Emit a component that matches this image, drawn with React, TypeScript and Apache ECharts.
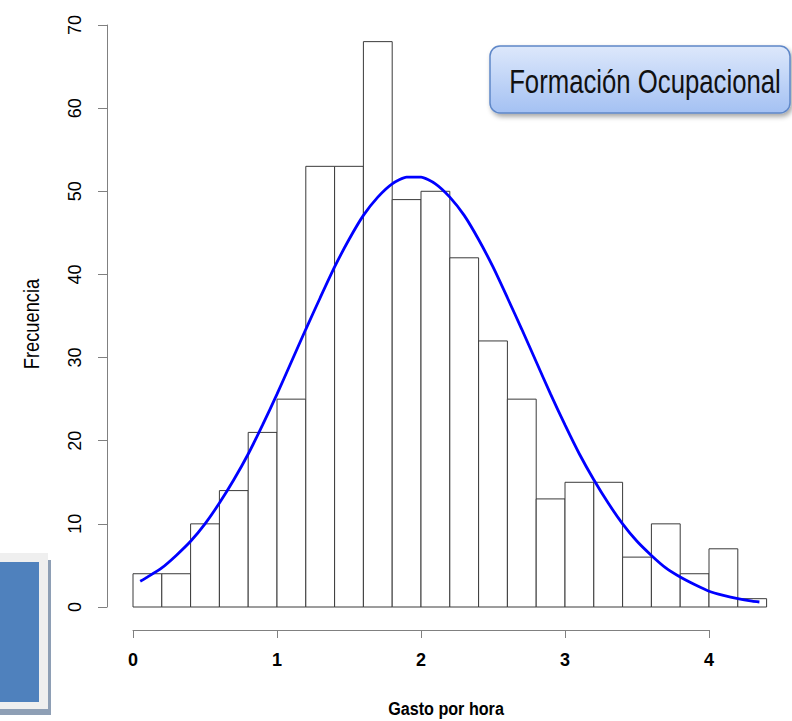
import React, { useEffect, useRef } from "react";
import * as echarts from "echarts";

// Histogram bins (edges) and frequencies
const binEdges = [0, 0.2, 0.4, 0.6, 0.8, 1.0, 1.2, 1.4, 1.6, 1.8, 2.0, 2.2, 2.4, 2.6, 2.8, 3.0, 3.2, 3.4, 3.6, 3.8, 4.0, 4.2, 4.4];
const counts = [4, 4, 10, 14, 21, 25, 53, 53, 68, 49, 50, 42, 32, 25, 13, 15, 15, 6, 10, 4, 7, 1];

// Fitted normal curve
const curveX = [0.05, 0.1, 0.2, 0.3, 0.4, 0.5, 0.6, 0.7, 0.8, 0.9, 1.0, 1.1, 1.2, 1.3, 1.4, 1.5, 1.6, 1.7, 1.8, 1.9, 2.0, 2.1, 2.2, 2.3, 2.4, 2.5, 2.6, 2.7, 2.8, 2.9, 3.0, 3.1, 3.2, 3.3, 3.4, 3.5, 3.6, 3.7, 3.8, 3.9, 4.0, 4.1, 4.2, 4.3, 4.35];
const curveY = [3.1, 3.6, 4.7, 6.2, 7.9, 10.0, 12.5, 15.3, 18.4, 21.9, 25.6, 29.5, 33.4, 37.2, 40.9, 44.2, 47.1, 49.3, 50.9, 51.7, 51.7, 50.9, 49.3, 47.1, 44.2, 40.9, 37.2, 33.4, 29.5, 25.6, 21.9, 18.4, 15.3, 12.5, 10.0, 7.9, 6.2, 4.7, 3.6, 2.7, 1.9, 1.4, 1.0, 0.7, 0.6];

const xTicks = [0, 1, 2, 3, 4];
const yTicks = [0, 10, 20, 30, 40, 50, 60, 70];

const xTitle = "Gasto por hora";
const yTitle = "Frecuencia";
const boxTitle = "Formación Ocupacional";

export default function App() {
  const ref = useRef<HTMLDivElement>(null);
  useEffect(() => {
    if (!ref.current) return;
    const chart = echarts.init(ref.current, null, { renderer: "svg" });
    const histData = counts.map((c, i) => [binEdges[i], binEdges[i + 1], c]);
    const lineData = curveX.map((x, i) => [x, curveY[i]]);
    const axisColor = "#808080";
    const font = "'Liberation Sans', Arial, sans-serif";
    chart.setOption({
      animation: false,
      backgroundColor: "#ffffff",
      grid: [
        { left: 133, width: 633.6, top: 25, height: 582 },
        { left: 133, width: 576, top: 629, height: 1 },
        { left: 107, width: 1, top: 25, height: 582 },
      ],
      xAxis: [
        { type: "value", gridIndex: 0, min: 0, max: 4.4, show: false },
        {
          type: "value",
          gridIndex: 1,
          min: xTicks[0],
          max: xTicks[xTicks.length - 1],
          interval: 1,
          position: "bottom",
          axisLine: { show: true, lineStyle: { color: axisColor, width: 1 } },
          axisTick: { show: true, length: 8, lineStyle: { color: axisColor } },
          splitLine: { show: false },
          axisLabel: { margin: 21, fontSize: 18, fontWeight: "bold", color: "#000", fontFamily: font },
        },
        { type: "value", gridIndex: 2, min: 0, max: 1, show: false },
      ],
      yAxis: [
        { type: "value", gridIndex: 0, min: 0, max: 70, show: false },
        { type: "value", gridIndex: 1, min: 0, max: 1, show: false },
        {
          type: "value",
          gridIndex: 2,
          min: yTicks[0],
          max: yTicks[yTicks.length - 1],
          interval: 10,
          position: "left",
          axisLine: { show: true, lineStyle: { color: axisColor, width: 1 } },
          axisTick: { show: true, length: 9, lineStyle: { color: axisColor } },
          splitLine: { show: false },
          axisLabel: { margin: 23, rotate: 90, fontSize: 18, fontWeight: 500, color: "#000", fontFamily: font },
        },
      ],
      series: [
        {
          type: "custom",
          xAxisIndex: 0,
          yAxisIndex: 0,
          data: histData,
          clip: false,
          renderItem: (params: any, api: any) => {
            const x0 = api.value(0);
            const x1 = api.value(1);
            const y = api.value(2);
            const p0 = api.coord([x0, y]);
            const p1 = api.coord([x1, 0]);
            return {
              type: "rect",
              shape: { x: p0[0], y: p0[1], width: p1[0] - p0[0], height: p1[1] - p0[1] },
              style: { fill: "#ffffff", stroke: "#3a3a3a", lineWidth: 1 },
            };
          },
          z: 2,
        },
        {
          type: "line",
          xAxisIndex: 0,
          yAxisIndex: 0,
          data: lineData,
          smooth: 0.2,
          showSymbol: false,
          symbol: "none",
          lineStyle: { color: "#0000ff", width: 2.8 },
          z: 3,
        },
      ],
      graphic: [
        {
          type: "text",
          x: 446,
          y: 709,
          scaleX: 0.85,
          style: {
            text: xTitle,
            fontSize: 19,
            fontWeight: "bold",
            fill: "#000",
            fontFamily: font,
            align: "center",
            verticalAlign: "middle",
          },
        },
        {
          type: "text",
          x: 31,
          y: 324,
          rotation: Math.PI / 2,
          scaleX: 0.83,
          style: {
            text: yTitle,
            fontSize: 22,
            fill: "#000",
            fontFamily: font,
            align: "center",
            verticalAlign: "middle",
          },
        },
        // decorative blue panel bottom-left
        { type: "rect", shape: { x: -5, y: 560, width: 56, height: 155 }, style: { fill: "#8e9fb5" }, z: 10 },
        { type: "rect", shape: { x: -5, y: 553, width: 53, height: 156 }, style: { fill: "#efefef" }, z: 11 },
        { type: "rect", shape: { x: -5, y: 562, width: 44, height: 140 }, style: { fill: "#4f81bd" }, z: 12 },
        // title box
        {
          type: "rect",
          shape: { x: 490, y: 46, width: 300, height: 67, r: 10 },
          style: {
            fill: {
              type: "linear",
              x: 0,
              y: 0,
              x2: 0,
              y2: 1,
              colorStops: [
                { offset: 0, color: "#dde8fb" },
                { offset: 1, color: "#a4c1f3" },
              ],
            },
            stroke: "#5e87c8",
            lineWidth: 1.5,
            shadowBlur: 5,
            shadowOffsetX: 2,
            shadowOffsetY: 3,
            shadowColor: "rgba(0,0,0,0.35)",
          },
          z: 20,
        },
        {
          type: "text",
          x: 645,
          y: 81,
          scaleX: 0.78,
          style: {
            text: boxTitle,
            fontSize: 33,
            fill: "#111",
            fontFamily: font,
            align: "center",
            verticalAlign: "middle",
          },
          z: 21,
        },
      ],
    });
    return () => chart.dispose();
  }, []);
  return (
    <div
      ref={ref}
      style={{ position: "absolute", left: 0, top: 0, width: 792, height: 721 }}
    />
  );
}
